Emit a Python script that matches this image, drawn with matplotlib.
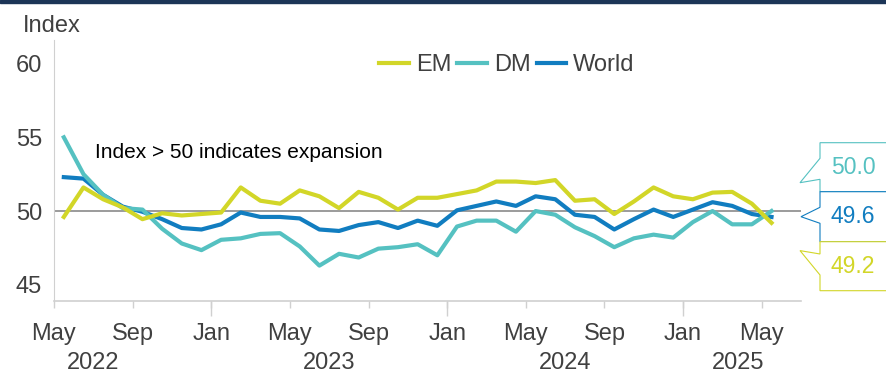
import numpy as np
import pandas as pd
import matplotlib
matplotlib.use('Agg')
import matplotlib.pyplot as plt
from matplotlib.patches import Polygon, Rectangle

plt.rcParams['font.family'] = ['Liberation Sans', 'DejaVu Sans']

# monthly PMI readings, May 2022 - May 2025
months = pd.date_range('2022-05-01', '2025-05-01', freq='MS')
em = [49.6, 51.6, 50.8, 50.25, 49.45, 49.85, 49.7, 49.8, 49.9, 51.6,
      50.7, 50.5, 51.4, 51.0, 50.2, 51.3, 50.9, 50.1, 50.9, 50.9,
      51.15, 51.4, 52.0, 52.0, 51.9, 52.1, 50.7, 50.8, 49.8, 50.65,
      51.6, 51.0, 50.8, 51.25, 51.3, 50.5, 49.2]
dm = [55.0, 52.5, 51.1, 50.2, 50.1, 48.8, 47.8, 47.35, 48.05, 48.15,
      48.45, 48.5, 47.6, 46.3, 47.1, 46.85, 47.45, 47.55, 47.75, 47.0,
      48.95, 49.35, 49.35, 48.6, 50.0, 49.75, 48.9, 48.3, 47.55, 48.15,
      48.4, 48.2, 49.25, 50.0, 49.1, 49.1, 50.0]
world = [52.3, 52.2, 51.1, 50.3, 49.95, 49.45, 48.85, 48.75, 49.1, 49.9,
         49.6, 49.6, 49.5, 48.75, 48.65, 49.05, 49.25, 48.85, 49.35, 49.0,
         50.05, 50.35, 50.65, 50.35, 51.0, 50.8, 49.75, 49.6, 48.75, 49.45,
         50.1, 49.6, 50.1, 50.6, 50.35, 49.8, 49.6]
years = ['2022', '2023', '2024', '2025']
year_pos = [1.5, 13.5, 25.5, 34.3]

C_EM = '#d2d628'
C_DM = '#55c1c1'
C_WORLD = '#117dc0'
C_TEXT = '#404040'
C_AXIS = '#d0d0d0'

W, H = 887, 374


def fig_xy(px, py):
    # pixel position (from top-left) -> figure fraction
    return (px / W, 1 - py / H)


fig = plt.figure(figsize=(W / 100, H / 100), dpi=100)
x0, y0 = fig_xy(54, 301)
x1, y1 = fig_xy(801, 40)
ax = fig.add_axes([x0, y0, x1 - x0, y1 - y0])

x = np.arange(len(months))
ax.axhline(50, color='#808080', lw=1.1, zorder=1)
l_world, = ax.plot(x, world, color=C_WORLD, lw=3.0, zorder=2)
l_dm, = ax.plot(x, dm, color=C_DM, lw=3.0, zorder=3)
l_em, = ax.plot(x, em, color=C_EM, lw=3.0, zorder=4)

ax.set_xlim(-0.5, len(months) + 0.5)
ax.set_ylim(43.9, 61.6)
ax.set_yticks([45, 50, 55, 60])

for side in ('top', 'right'):
    ax.spines[side].set_visible(False)
ax.spines['left'].set_color(C_AXIS)
ax.spines['left'].set_linewidth(0.8)
ax.spines['bottom'].set_color(C_AXIS)
ax.spines['bottom'].set_linewidth(1.2)

ax.tick_params(axis='y', length=0, pad=8.6, labelsize=17, labelcolor=C_TEXT)

major = x[::4] - 0.5
ax.set_xticks(major, [d.strftime('%b') for d in months[::4]])
ax.set_xticks(x[months.month == 1] - 0.5, minor=True)
ax.xaxis.remove_overlapping_locs = False
ax.tick_params(axis='x', which='major', length=5, width=1, color=C_AXIS,
               pad=11, labelsize=17, labelcolor=C_TEXT)
ax.tick_params(axis='x', which='minor', length=11, width=1, color=C_AXIS)

for yr, pos in zip(years, year_pos):
    ax.annotate(yr, xy=(pos, 0), xycoords=('data', 'axes fraction'),
                xytext=(0, -49), textcoords='offset points', ha='center',
                va='baseline', fontsize=17, color=C_TEXT, annotation_clip=False)

ax.text(1.6, 53.6, 'Index > 50 indicates expansion', fontsize=15,
        color='black', va='baseline')

leg = ax.legend([l_em, l_dm, l_world], ['EM', 'DM', 'World'], ncol=3,
                loc='center', bbox_to_anchor=fig_xy(507, 65),
                bbox_transform=fig.transFigure, frameon=False, fontsize=17,
                handlelength=1.25, handletextpad=0.3, columnspacing=0.25,
                borderpad=0, borderaxespad=0)
for t in leg.get_texts():
    t.set_color(C_TEXT)

fig.text(*fig_xy(23, 32), 'Index', fontsize=17, color=C_TEXT, va='baseline')

# end-of-series callouts
callouts = [
    (dm[-1], C_DM, 142.7, 191.7, [(820, 158.3), (800, 182.7), (820, 179.3)]),
    (world[-1], C_WORLD, 191.7, 241.7, [(820, 207.3), (801, 216.7), (820, 223.3)]),
    (em[-1], C_EM, 241.7, 290.7, [(820, 254.0), (800, 250.6), (820, 275.0)]),
]
for val, color, top, bottom, tip in callouts:
    pts = [(895, top), (820, top)] + tip + [(820, bottom), (895, bottom)]
    fig.add_artist(Polygon([fig_xy(*p) for p in pts], closed=True,
                           transform=fig.transFigure, facecolor='white',
                           edgecolor=color, lw=0.8))
    fig.text(*fig_xy(831, (top + bottom) / 2), f'{val:.1f}', fontsize=16.5,
             color=color, va='center', ha='left')

fig.add_artist(Rectangle(fig_xy(0, 3), 1, 3 / H, transform=fig.transFigure,
                         color='#1c3557'))

fig.savefig('out.png', dpi=100)
